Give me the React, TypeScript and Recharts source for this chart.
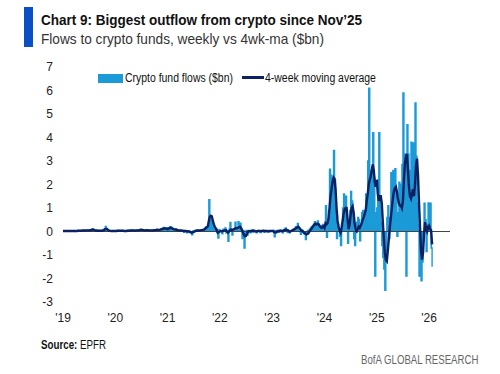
import React from "react";
import { ComposedChart, Area, Line, XAxis, YAxis, ReferenceLine } from "recharts";

// weekly crypto fund flows ($bn) and their 4-week moving average, one array per calendar year
const FONT = "'Liberation Sans', Arial, sans-serif";
const BAR_BLUE = "#1b9ad8";
const NAVY = "#0c2163";

const years = [2019, 2020, 2021, 2022, 2023, 2024, 2025, 2026];

const flows2019 = [0.01, 0.02, 0.01, 0.02, 0.03, 0.01, 0.02, 0.02, 0.01, 0.03, 0.02, 0.01, 0.02, 0.03, 0.02, 0.04, 0.03, 0.02, 0.05, 0.04, 0.03, 0.05, 0.04, 0.06, 0.05, 0.04, 0.06, 0.08, 0.07, 0.12, 0.06, 0.04, 0.03, 0.05, 0.02, 0.03, 0.04, 0.02, 0.03, 0.05, 0.04, 0.12, 0.22, 0.08, 0.03, 0.02, 0.03, 0.02, 0.01, 0.02, 0.03, 0.02];
const flows2020 = [0.03, 0.02, 0.04, 0.05, 0.03, 0.02, 0.04, 0.03, 0.02, 0.01, 0.02, 0.03, 0.04, 0.03, 0.05, 0.04, 0.06, 0.05, 0.04, 0.03, 0.05, 0.06, 0.04, 0.05, 0.07, 0.1, 0.06, 0.05, 0.04, 0.06, 0.05, 0.07, 0.06, 0.04, 0.05, 0.06, 0.04, 0.05, 0.07, 0.06, 0.08, 0.1, 0.06, 0.05, 0.08, 0.12, 0.1, 0.14, 0.17, 0.12, 0.1, 0.15];
const flows2021 = [0.1, 0.15, 0.2, 0.18, 0.12, 0.08, 0.1, 0.06, 0.12, 0.05, 0.04, 0.06, 0.03, 0.02, 0.04, 0.05, -0.03, 0.02, 0.03, -0.05, 0.02, 0.01, -0.04, -0.06, -0.14, 0.02, 0.03, 0.05, 0.01, 0.04, 0.06, 0.03, 0.05, 0.08, 0.04, 0.06, 0.1, 0.15, 0.2, 0.18, 0.3, 1.35, 0.5, 0.45, 0.35, 0.25, 0.1, 0.05, 0.12, -0.05, -0.28, 0.08];
const flows2022 = [0.05, 0.02, -0.1, 0.1, 0.05, 0.15, -0.05, 0.02, -0.42, 0.1, 0.38, 0.05, -0.15, 0.08, 0.1, 0.4, 0.1, 0.05, 0.42, 0.2, 0.35, 0.1, -0.3, 0.05, -0.7, -0.2, 0.05, -0.15, 0.02, 0.05, -0.05, 0.03, 0.08, -0.02, 0.04, 0.02, -0.06, 0.03, 0.05, 0.02, -0.04, 0.03, 0.02, 0.05, -0.03, 0.02, 0.04, 0.01, -0.02, 0.03, 0.02, 0.01];
const flows2023 = [0.02, 0.05, -0.23, 0.03, 0.05, 0.02, -0.03, 0.04, 0.06, 0.02, -0.05, 0.08, 0.1, 0.15, 0.05, -0.04, 0.02, -0.06, 0.03, 0.05, 0.08, 0.1, 0.12, 0.2, 0.15, 0.34, 0.1, 0.05, -0.12, 0.08, 0.05, -0.1, -0.05, -0.34, -0.1, 0.05, 0.02, 0.1, 0.15, 0.2, 0.25, 0.3, 0.42, 0.35, 0.2, 0.45, 0.3, 0.15, 0.05, 0.25, 0.3, 0.2];
const flows2024 = [0.3, 1.1, -0.25, 0.5, 0.9, 2.65, 2.4, 1.5, 2.1, 3.45, 2.2, 0.9, -0.3, 0.3, 0.1, -0.2, -0.6, 0.2, 1.0, 1.6, 1.2, 1.5, 0.6, -0.5, 0.2, 0.9, 1.7, 1.3, 0.6, -0.3, -0.6, 0.1, 0.4, 0.6, 0.5, -0.4, 0.3, 0.8, 0.9, 0.6, 0.9, 1.6, 1.0, 3.0, 6.1, 2.2, 2.6, 1.7, 4.2, 2.3, -1.9, 0.8];
const flows2025 = [1.0, 2.2, 4.2, 1.5, 0.4, -0.6, -1.1, -1.6, -2.5, -1.0, 0.6, 1.1, -0.3, 0.6, 2.5, 1.6, 2.6, 2.0, 2.67, 1.5, -0.2, 0.8, 2.1, 1.4, 2.0, 2.85, 5.9, 2.6, 3.3, -1.9, 4.55, 3.3, 1.5, 2.6, 3.8, 1.0, 3.77, 0.9, 5.47, 3.2, 1.2, 0.3, -1.9, -0.8, -2.1, -1.3, -0.4, 1.2, 0.5, -0.85, 0.3, 1.22];
const flows2026 = [0.5, 1.2, -0.7, -1.5];

const ma2019 = [0.02, 0.02, 0.02, 0.02, 0.02, 0.02, 0.02, 0.02, 0.02, 0.02, 0.02, 0.02, 0.02, 0.02, 0.02, 0.03, 0.03, 0.03, 0.03, 0.04, 0.04, 0.04, 0.04, 0.05, 0.05, 0.05, 0.05, 0.06, 0.06, 0.08, 0.08, 0.07, 0.05, 0.04, 0.04, 0.03, 0.03, 0.03, 0.03, 0.04, 0.04, 0.06, 0.1, 0.11, 0.1, 0.06, 0.04, 0.03, 0.02, 0.02, 0.02, 0.02];
const ma2020 = [0.02, 0.02, 0.03, 0.03, 0.03, 0.03, 0.03, 0.03, 0.03, 0.02, 0.02, 0.02, 0.03, 0.03, 0.04, 0.04, 0.05, 0.05, 0.05, 0.04, 0.04, 0.05, 0.05, 0.05, 0.06, 0.07, 0.07, 0.07, 0.06, 0.05, 0.05, 0.06, 0.06, 0.05, 0.05, 0.05, 0.05, 0.05, 0.05, 0.06, 0.06, 0.07, 0.07, 0.07, 0.07, 0.08, 0.09, 0.11, 0.13, 0.13, 0.13, 0.12];
const ma2021 = [0.1, 0.12, 0.14, 0.16, 0.15, 0.12, 0.1, 0.09, 0.08, 0.07, 0.06, 0.05, 0.04, 0.04, 0.04, 0.03, 0.02, 0.02, 0.02, 0.01, 0.01, 0.0, -0.01, -0.03, -0.05, -0.04, -0.02, 0.0, 0.03, 0.04, 0.04, 0.04, 0.05, 0.05, 0.06, 0.07, 0.08, 0.1, 0.14, 0.18, 0.22, 0.45, 0.62, 0.67, 0.65, 0.45, 0.3, 0.2, 0.12, 0.05, -0.05, -0.02];
const ma2022 = [0.0, 0.02, 0.0, 0.02, 0.04, 0.05, 0.06, 0.0, -0.05, 0.0, 0.04, 0.08, 0.05, 0.08, 0.1, 0.12, 0.15, 0.14, 0.16, 0.18, 0.2, 0.15, 0.05, -0.05, -0.15, -0.2, -0.18, -0.1, 0.0, 0.02, 0.0, 0.02, 0.03, 0.02, 0.03, 0.02, 0.0, 0.01, 0.02, 0.02, 0.01, 0.02, 0.02, 0.03, 0.02, 0.02, 0.02, 0.01, 0.01, 0.02, 0.02, 0.02];
const ma2023 = [0.02, 0.02, -0.03, -0.03, -0.04, 0.0, 0.02, 0.02, 0.03, 0.02, 0.01, 0.03, 0.05, 0.07, 0.08, 0.06, 0.05, 0.0, 0.0, 0.02, 0.04, 0.07, 0.09, 0.12, 0.15, 0.18, 0.2, 0.16, 0.1, 0.03, 0.02, -0.02, -0.05, -0.1, -0.12, -0.1, -0.08, 0.0, 0.06, 0.12, 0.18, 0.24, 0.3, 0.33, 0.3, 0.33, 0.32, 0.25, 0.18, 0.15, 0.2, 0.22];
const ma2024 = [0.15, 0.35, 0.3, 0.35, 0.55, 1.0, 1.5, 1.8, 2.1, 2.3, 2.25, 1.8, 1.0, 0.45, 0.2, 0.05, -0.05, 0.15, 0.45, 0.75, 0.95, 1.0, 1.0, 0.5, 0.1, 0.3, 0.7, 1.0, 1.07, 0.8, 0.35, 0.05, 0.0, 0.1, 0.2, 0.15, 0.25, 0.35, 0.5, 0.6, 0.75, 0.9, 1.3, 1.6, 2.0, 2.2, 2.35, 2.6, 2.85, 2.6, 2.1, 1.9];
const ma2025 = [2.2, 1.6, 1.3, 1.5, 1.5, 1.2, 0.4, -0.3, -0.9, -1.2, -1.26, -0.8, -0.3, 0.2, 0.6, 1.0, 1.4, 1.7, 1.85, 1.9, 1.7, 1.4, 1.2, 1.1, 1.1, 1.0, 1.3, 2.2, 2.9, 3.2, 3.3, 2.6, 1.9, 1.5, 1.4, 1.6, 1.8, 1.5, 2.0, 2.8, 3.1, 2.4, 1.2, 0.2, -0.8, -1.2, -0.9, -0.1, 0.4, 0.1, 0.0, 0.2];
const ma2026 = [0.25, 0.1, 0.05, -0.55];

const flowsByYear = [flows2019, flows2020, flows2021, flows2022, flows2023, flows2024, flows2025, flows2026];
const maByYear = [ma2019, ma2020, ma2021, ma2022, ma2023, ma2024, ma2025, ma2026];

const yTicks = [-3, -2, -1, 0, 1, 2, 3, 4, 5, 6, 7];
const xTicks = [2019, 2020, 2021, 2022, 2023, 2024, 2025, 2026];

const SERIES_FLOW = "Crypto fund flows ($bn)";
const SERIES_MA = "4-week moving average";

// week k of a year sits at year + k/52 on the numeric time axis
const data = years.flatMap((yr, yi) =>
  flowsByYear[yi].map((f, k) => ({ t: yr + k / 52, flow: f, ma: maByYear[yi][k] }))
);

const TICK = { fill: "#222", fontSize: 12, fontFamily: FONT };
const yearLabel = (v: number) => `'${String(v).slice(2)}`;

// the original uses a condensed face; squeeze Liberation Sans horizontally to match widths
const narrow = (sx: number, origin = "left"): React.CSSProperties => ({
  display: "inline-block",
  transform: `scaleX(${sx})`,
  transformOrigin: origin,
  whiteSpace: "nowrap",
});

function ChartLegend() {
  const text: React.CSSProperties = { position: "absolute", top: 71, fontSize: 12, lineHeight: "14px", color: "#111" };
  return (
    <>
      <div style={{ position: "absolute", left: 98, top: 74, width: 25, height: 9, background: BAR_BLUE }} />
      <div style={{ ...text, left: 125 }}><span style={narrow(0.87)}>{SERIES_FLOW}</span></div>
      <div style={{ position: "absolute", left: 242, top: 76, width: 22, height: 3, background: NAVY }} />
      <div style={{ ...text, left: 265 }}><span style={narrow(0.87)}>{SERIES_MA}</span></div>
    </>
  );
}

export default function App() {
  return (
    <div style={{ position: "absolute", left: 0, top: 0, width: 500, height: 374, background: "#fff", fontFamily: FONT, overflow: "hidden" }}>
      <div style={{ position: "absolute", left: 24, top: 7, width: 9, height: 40, background: "#0b4fc4" }} />
      <div style={{ position: "absolute", left: 41, top: 11, fontSize: 15, lineHeight: "18px", fontWeight: 700, color: "#111" }}>
        <span style={narrow(0.9)}>Chart 9: Biggest outflow from crypto since Nov’25</span>
      </div>
      <div style={{ position: "absolute", left: 41, top: 30, fontSize: 15, lineHeight: "18px", color: "#333" }}>
        <span style={narrow(0.91)}>Flows to crypto funds, weekly vs 4wk-ma ($bn)</span>
      </div>

      <div style={{ position: "absolute", left: 0, top: 0 }}>
        <ComposedChart width={500} height={374} data={data} margin={{ top: 67, right: 50, bottom: 52, left: 13 }}>
          <XAxis
            type="number"
            dataKey="t"
            domain={[2019, 2026.4]}
            ticks={xTicks}
            interval={0}
            tickFormatter={yearLabel}
            axisLine={false}
            tickLine={false}
            height={20}
            tickMargin={5}
            tick={TICK}
          />
          <YAxis
            type="number"
            domain={[-3, 7]}
            ticks={yTicks}
            interval={0}
            axisLine={false}
            tickLine={false}
            width={50}
            tickMargin={4}
            tick={TICK}
          />
          <ReferenceLine y={0} stroke="#444" strokeWidth={1} />
          <Area
            dataKey="flow"
            name={SERIES_FLOW}
            type="stepAfter"
            baseValue={0}
            stroke={BAR_BLUE}
            strokeWidth={1.4}
            fill={BAR_BLUE}
            fillOpacity={1}
            isAnimationActive={false}
          />
          <Line dataKey="ma" name={SERIES_MA} type="linear" stroke={NAVY} strokeWidth={2.4} dot={false} isAnimationActive={false} />
        </ComposedChart>
      </div>

      <ChartLegend />

      <div style={{ position: "absolute", left: 41, top: 337, fontSize: 12.5, lineHeight: "16px", color: "#111" }}>
        <span style={narrow(0.78)}><b>Source:</b> EPFR</span>
      </div>
      <div style={{ position: "absolute", right: 22, top: 353, fontSize: 12.5, lineHeight: "14px", color: "#666" }}>
        <span style={narrow(0.77, "right")}>BofA GLOBAL RESEARCH</span>
      </div>
    </div>
  );
}
